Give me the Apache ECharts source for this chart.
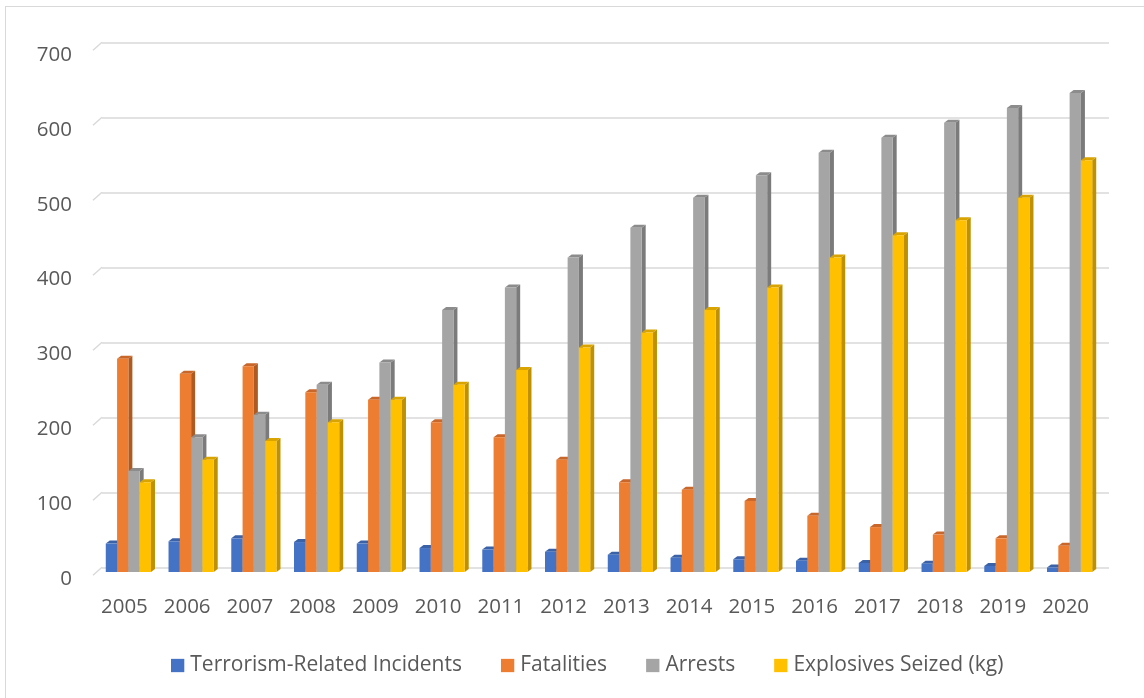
<!DOCTYPE html>
<html>
<head>
<meta charset="utf-8">
<script src="https://cdn.jsdelivr.net/npm/echarts@6/dist/echarts.min.js"></script>
<style>
html,body{margin:0;padding:0;background:#fff;}
#frame{position:absolute;left:5px;top:6px;width:1139px;height:692px;border-left:1.5px solid #d9d9d9;border-top:1.5px solid #d9d9d9;box-sizing:border-box;}
#chart{position:absolute;left:0;top:0;width:1144px;height:698px;}
</style>
</head>
<body>
<div id="frame"></div>
<div id="chart"></div>
<script>
const years = ['2005','2006','2007','2008','2009','2010','2011','2012','2013','2014','2015','2016','2017','2018','2019','2020'];
const incidents = [38, 41, 45, 40, 38, 32, 30, 27, 23, 19, 17, 15, 12, 11, 8, 6];
const fatalities = [285, 265, 275, 240, 230, 200, 180, 150, 120, 110, 95, 75, 60, 50, 45, 35];
const arrests = [135, 180, 210, 250, 280, 350, 380, 420, 460, 500, 530, 560, 580, 600, 620, 640];
const explosives = [120, 150, 175, 200, 230, 250, 270, 300, 320, 350, 380, 420, 450, 470, 500, 550];
const yTicks = [0, 100, 200, 300, 400, 500, 600, 700];
const Y_MIN = 0, Y_MAX = 700, Y_STEP = 100;

const seriesDefs = [
  { name: 'Terrorism-Related Incidents', data: incidents, front: '#4472C4', side: '#2F528F', top: '#3A62A8' },
  { name: 'Fatalities', data: fatalities, front: '#ED7D31', side: '#AE5A21', top: '#C9662A' },
  { name: 'Arrests', data: arrests, front: '#A5A5A5', side: '#7B7B7B', top: '#8C8C8C' },
  { name: 'Explosives Seized (kg)', data: explosives, front: '#FFC000', side: '#BF9000', top: '#D9A300' }
];

const BW = 11.3, DX = 4, DY = 3, SHIFT = 4;
function makeRender(def, s) {
  return function (params, api) {
    const idx = api.value(0), val = api.value(1);
    const base = api.coord([idx, 0]);
    const top = api.coord([idx, val]);
    const x0 = base[0] + SHIFT - 2 * BW + s * BW;
    const yb = base[1], yt = top[1];
    return {
      type: 'group',
      children: [
        { type: 'polygon', shape: { points: [[x0 + BW, yt], [x0 + BW + DX, yt - DY], [x0 + BW + DX, yb - DY], [x0 + BW, yb]] }, style: { fill: def.side } },
        { type: 'polygon', shape: { points: [[x0, yt], [x0 + DX, yt - DY], [x0 + BW + DX, yt - DY], [x0 + BW, yt]] }, style: { fill: def.top } },
        { type: 'rect', shape: { x: x0, y: yt, width: BW, height: yb - yt }, style: { fill: def.front } }
      ]
    };
  };
}

// side-wall diagonal of each gridline (3D look)
function renderDiag(params, api) {
  const p = api.coord([0, api.value(0)]);
  return { type: 'line', shape: { x1: p[0] - 9, y1: p[1] + 8, x2: p[0], y2: p[1] }, style: { stroke: '#d9d9d9', lineWidth: 1.5 } };
}

const FONT = 'Open Sans';
const LABEL_COLOR = '#595959';
const chart = echarts.init(document.getElementById('chart'));
chart.setOption({
  animation: false,
  textStyle: { fontFamily: FONT },
  grid: [
    { left: 93, right: 47, top: 48, bottom: 126 },          // bars (front plane)
    { left: 102, right: 35, top: 42.3, bottom: 130.7 },     // back wall gridlines
    { left: 93, right: 47, top: 55, bottom: 119 }           // y labels
  ],
  legend: {
    left: 171, top: 655, padding: 0,
    icon: 'rect', itemWidth: 13.3, itemHeight: 13.3, itemGap: 39,
    textStyle: { fontFamily: FONT, fontSize: 21, color: LABEL_COLOR, padding: [0, 0, 0, 1] },
    data: seriesDefs.map(d => d.name)
  },
  xAxis: [
    {
      type: 'category', data: years, gridIndex: 0,
      axisLine: { show: false }, axisTick: { show: false },
      axisLabel: { fontFamily: FONT, fontSize: 20.5, color: LABEL_COLOR, margin: 25 }
    },
    { type: 'value', gridIndex: 1, min: 0, max: 1, show: false },
    { type: 'value', gridIndex: 2, min: 0, max: 1, show: false }
  ],
  yAxis: [
    { type: 'value', gridIndex: 0, min: Y_MIN, max: Y_MAX, interval: Y_STEP, show: false, splitLine: { show: false } },
    {
      type: 'value', gridIndex: 1, min: Y_MIN, max: Y_MAX, interval: Y_STEP,
      axisLine: { show: false }, axisTick: { show: false }, axisLabel: { show: false },
      splitLine: { lineStyle: { color: '#d9d9d9', width: 1.5 } }
    },
    {
      type: 'value', gridIndex: 2, min: Y_MIN, max: Y_MAX, interval: Y_STEP,
      axisLine: { show: false }, axisTick: { show: false }, splitLine: { show: false },
      axisLabel: { fontFamily: FONT, fontSize: 20.5, color: LABEL_COLOR, margin: 21 }
    }
  ],
  series: [
    {
      type: 'custom', name: 'grid-diagonals', xAxisIndex: 1, yAxisIndex: 1, silent: true,
      renderItem: renderDiag, encode: { y: 0 }, data: yTicks.map(v => [v]), z: 0
    }
  ].concat(seriesDefs.map((d, s) => ({
    type: 'custom', name: d.name, xAxisIndex: 0, yAxisIndex: 0,
    itemStyle: { color: d.front },
    renderItem: makeRender(d, s),
    encode: { x: 0, y: 1 },
    data: d.data.map((v, i) => [i, v]),
    z: 2
  })))
});
</script>
</body>
</html>
